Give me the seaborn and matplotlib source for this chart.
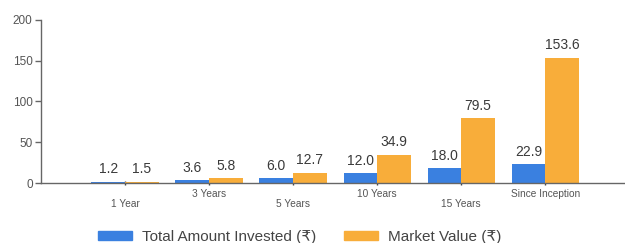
import pandas as pd
import numpy as np
import matplotlib
matplotlib.use("Agg")
import matplotlib.pyplot as plt
import seaborn as sns

# chart values
periods = ["1 Year", "3 Years", "5 Years", "10 Years", "15 Years", "Since Inception"]
invested = [1.2, 3.6, 6.0, 12.0, 18.0, 22.9]
market_value = [1.5, 5.8, 12.7, 34.9, 79.5, 153.6]
series_names = ["Total Amount Invested (₹)", "Market Value (₹)"]
colors = ["#3a80e0", "#f8ad3a"]

df = pd.DataFrame({
    "Period": periods * 2,
    "Value": invested + market_value,
    "Series": [series_names[0]] * len(periods) + [series_names[1]] * len(periods),
})

sns.set_style("white")
plt.rcParams['font.family'] = ['Liberation Sans', 'DejaVu Sans']

fig = plt.figure(figsize=(6.25, 2.43), dpi=100)
ax = fig.add_axes([41 / 625, 1 - 183 / 243, 1 - 41 / 625, (183 - 20) / 243])

sns.barplot(data=df, x="Period", y="Value", hue="Series", palette=colors,
            width=0.8, saturation=1, linewidth=0, ax=ax, legend=False)

# value labels above bars
for cont in ax.containers:
    ax.bar_label(cont, fmt="%.1f", padding=4, fontsize=10, color="#3a3a3a")

ax.set_xlim(-1, 5.95)
ax.set_ylim(0, 200)
ax.set_yticks([0, 50, 100, 150, 200])
ax.set_xlabel("")
ax.set_ylabel("")

for s in ["top", "right"]:
    ax.spines[s].set_visible(False)
for s in ["left", "bottom"]:
    ax.spines[s].set_color("#666666")
    ax.spines[s].set_linewidth(1)

ax.tick_params(axis="y", length=4, width=1, color="#666666", labelsize=8.5,
               labelcolor="#555555", pad=2, left=True)
ax.tick_params(axis="x", length=3, width=1, color="#444444", labelsize=7.3,
               labelcolor="#555555", bottom=True, direction="inout")

# staggered x labels
for i, tick in enumerate(ax.xaxis.get_major_ticks()):
    tick.set_pad(10 if i % 2 == 0 else 2.5)

handles = [plt.Rectangle((0, 0), 1, 1, color=c) for c in colors]
fig.legend(handles, series_names, loc="center", bbox_to_anchor=(300 / 625, 1 - 237 / 243),
           ncol=2, frameon=False, fontsize=11, handlelength=2.2, handleheight=0.6,
           handletextpad=0.7, columnspacing=1.8, labelcolor="#444444")

fig.savefig("out.png", dpi=100)
